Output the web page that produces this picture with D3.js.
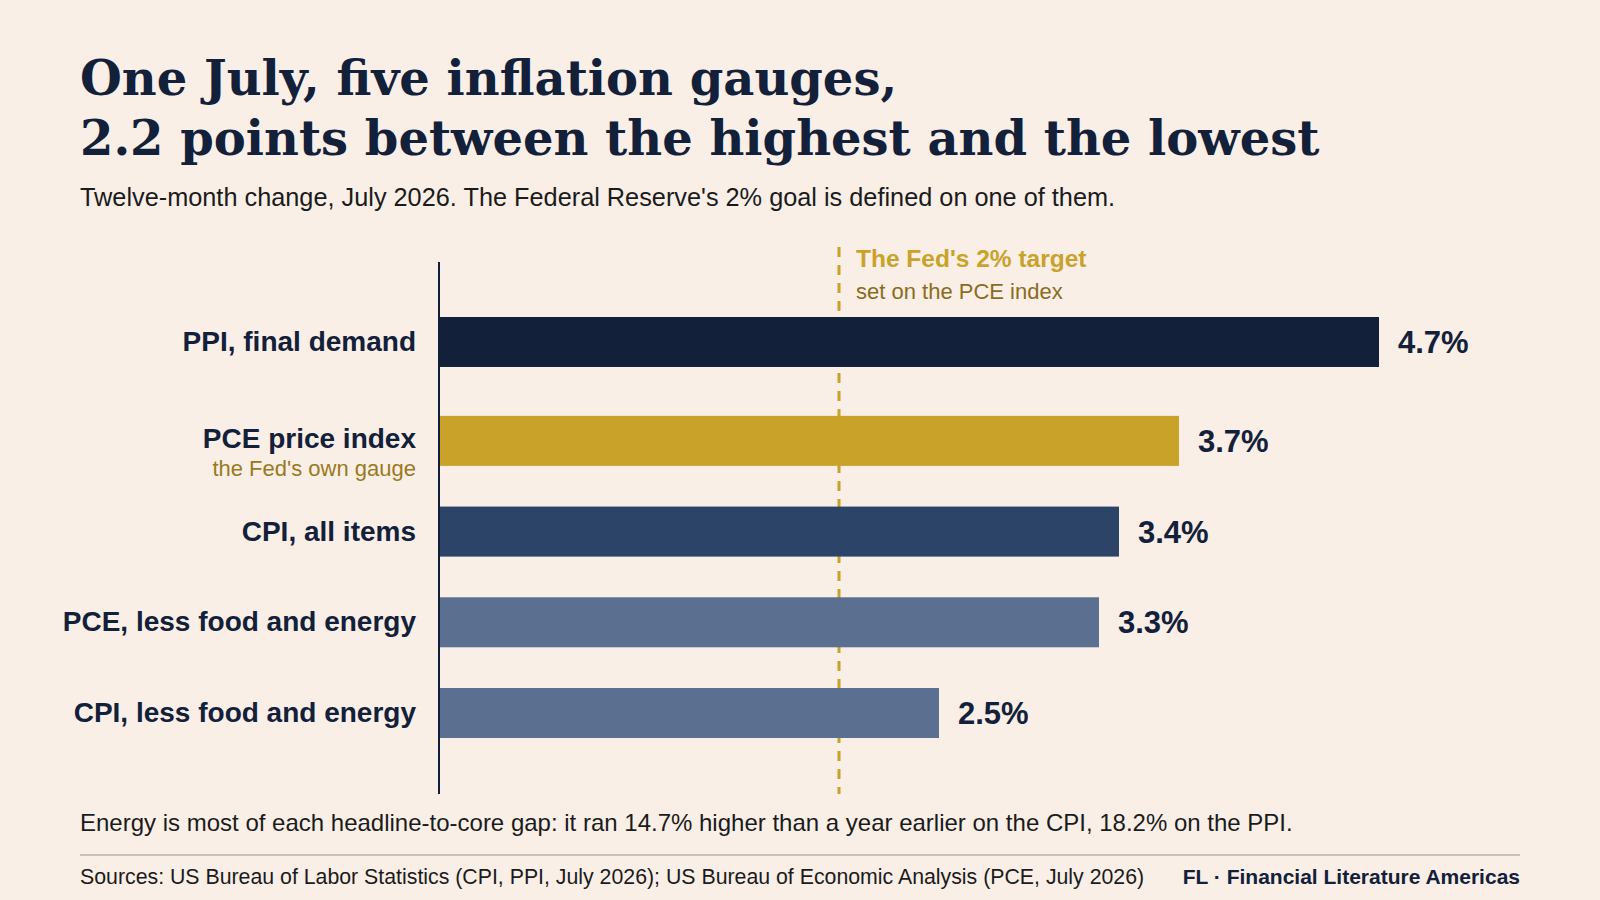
<!DOCTYPE html><html><head><meta charset="utf-8">
<script src="https://cdn.jsdelivr.net/npm/d3@7"></script>
<style>body{margin:0;background:#f9efe7}</style></head><body>
<svg id="c" width="1600" height="900"></svg>
<script>
const categories=["PPI, final demand","PCE price index","CPI, all items","PCE, less food and energy","CPI, less food and energy"];
const values=[4.7,3.7,3.4,3.3,2.5];
const valueLabels=["4.7%","3.7%","3.4%","3.3%","2.5%"];
const colors=["#12203a","#c9a22a","#2c4468","#5b6f91","#5b6f91"];
const target=2;
const svg=d3.select("#c");
const sans="'Liberation Sans',Arial,sans-serif";
svg.append("rect").attr("width",1600).attr("height",900).attr("fill","#f9efe7");
const x=d3.scaleLinear().domain([0,4.7]).range([439,1379]);
// extra gap after the first row to make room for the PCE sublabel
const slot=i=>i+(i>=1?0.09:0);
const yc=d3.scaleLinear().domain([0,4.09]).range([342,713]);
const bh=50;
const t=svg.append("text").attr("font-family","Georgia,'DejaVu Serif',serif").attr("font-weight","bold").attr("font-size",48).attr("fill","#12203a");
t.append("tspan").attr("x",80).attr("y",95).text("One July, five inflation gauges,");
t.append("tspan").attr("x",80).attr("y",155).text("2.2 points between the highest and the lowest");
svg.append("text").attr("x",80).attr("y",206).attr("font-family",sans).attr("font-size",25.3).attr("fill","#1b1b1b").text("Twelve-month change, July 2026. The Federal Reserve's 2% goal is defined on one of them.");
svg.append("line").attr("x1",x(target)).attr("x2",x(target)).attr("y1",247).attr("y2",794).attr("stroke","#c9a22a").attr("stroke-width",3).attr("stroke-dasharray","10,8");
svg.append("text").attr("x",x(target)+17).attr("y",267).attr("font-family",sans).attr("font-weight","bold").attr("font-size",24.5).attr("fill","#c9a22a").text("The Fed's 2% target");
svg.append("text").attr("x",x(target)+17).attr("y",299).attr("font-family",sans).attr("font-size",22).attr("fill","#8a6d1c").text("set on the PCE index");
svg.selectAll(".bar").data(categories).join("rect").attr("x",x(0)).attr("y",(d,i)=>yc(slot(i))-bh/2).attr("height",bh).attr("width",(d,i)=>x(values[i])-x(0)).attr("fill",(d,i)=>colors[i]);
svg.selectAll(".v").data(categories).join("text").attr("x",(d,i)=>x(values[i])+19).attr("y",(d,i)=>yc(slot(i))+11).attr("font-family",sans).attr("font-weight","bold").attr("font-size",31).attr("fill","#12203a").text((d,i)=>valueLabels[i]);
svg.selectAll(".c").data(categories).join("text").attr("x",416).attr("y",(d,i)=>yc(slot(i))+(i==1?7:9)).attr("text-anchor","end").attr("font-family",sans).attr("font-weight","bold").attr("font-size",28).attr("fill","#12203a").text(d=>d);
svg.append("text").attr("x",416).attr("y",yc(slot(1))+35).attr("text-anchor","end").attr("font-family",sans).attr("font-size",22).attr("fill","#9a7a1c").text("the Fed's own gauge");
svg.append("line").attr("x1",x(0)).attr("x2",x(0)).attr("y1",262).attr("y2",794).attr("stroke","#12203a").attr("stroke-width",2);
svg.append("text").attr("x",80).attr("y",831).attr("font-family",sans).attr("font-size",24).attr("fill","#1b1b1b").text("Energy is most of each headline-to-core gap: it ran 14.7% higher than a year earlier on the CPI, 18.2% on the PPI.");
svg.append("line").attr("x1",80).attr("x2",1520).attr("y1",855).attr("y2",855).attr("stroke","#b9b2ab").attr("stroke-width",1.5);
svg.append("text").attr("x",80).attr("y",884).attr("font-family",sans).attr("font-size",21.3).attr("fill","#1b1b1b").text("Sources: US Bureau of Labor Statistics (CPI, PPI, July 2026); US Bureau of Economic Analysis (PCE, July 2026)");
svg.append("text").attr("x",1520).attr("y",884).attr("text-anchor","end").attr("font-family",sans).attr("font-weight","bold").attr("font-size",21).attr("fill","#12203a").text("FL · Financial Literature Americas");
</script></body></html>
